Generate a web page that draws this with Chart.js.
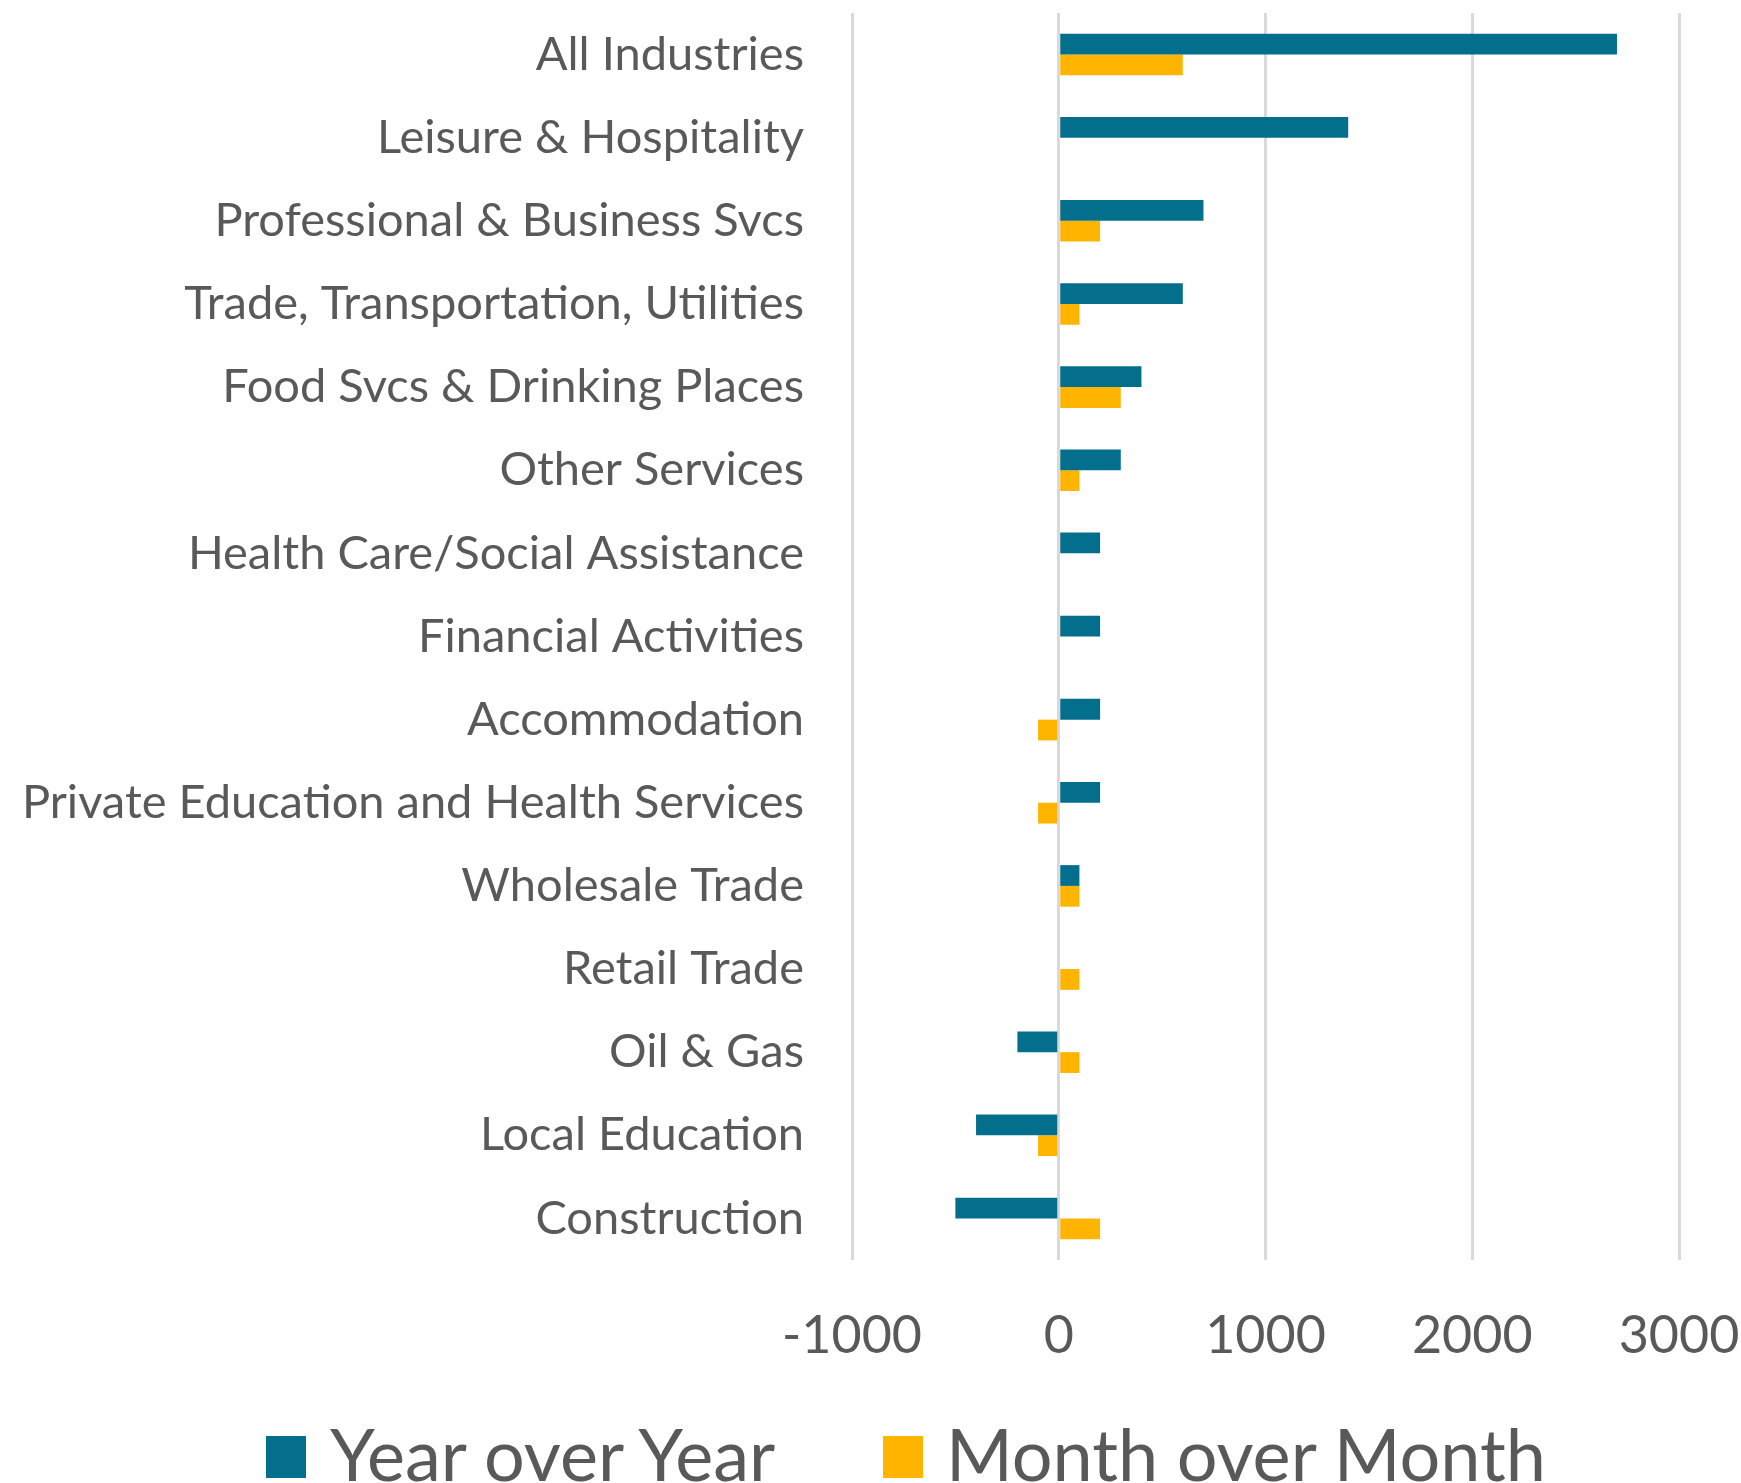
<!DOCTYPE html>
<html>
<head>
<meta charset="utf-8">
<script src="https://cdn.jsdelivr.net/npm/chart.js@4/dist/chart.umd.min.js"></script>
<style>
  html, body { margin: 0; padding: 0; background: #ffffff; }
  #wrap { position: relative; width: 1741px; height: 1483px; overflow: hidden; }
  #c { position: absolute; left: 0; top: 0; }
  #legend { position: absolute; left: 0; top: 1400px; width: 1741px; height: 83px; }
  .item { position: absolute; top: 0; height: 83px; }
  .box { position: absolute; top: 36px; width: 40px; height: 42px; }
  .txt { position: absolute; top: 12px; font-family: Lato, sans-serif; font-size: 72px; line-height: 83px; color: #595959; white-space: nowrap; }
</style>
</head>
<body>
<div id="wrap">
  <canvas id="c" width="1741" height="1400"></canvas>
  <div id="legend"></div>
</div>
<script>
const categories = [
  "All Industries",
  "Leisure & Hospitality",
  "Professional & Business Svcs",
  "Trade, Transportation, Utilities",
  "Food Svcs & Drinking Places",
  "Other Services",
  "Health Care/Social Assistance",
  "Financial Activities",
  "Accommodation",
  "Private Education and Health Services",
  "Wholesale Trade",
  "Retail Trade",
  "Oil & Gas",
  "Local Education",
  "Construction"
];
const yearOverYear = [2700, 1400, 700, 600, 400, 300, 200, 200, 200, 200, 100, 0, -200, -400, -500];
const monthOverMonth = [600, 0, 200, 100, 300, 100, 0, 0, -100, -100, 100, 100, 100, -100, 200];
const seriesNames = ["Year over Year", "Month over Month"];
const seriesColors = ["#036f8c", "#ffb400"];
const xTicks = [-1000, 0, 1000, 2000, 3000];

function noPad(s) {
  s.paddingTop = 0; s.paddingBottom = 0; s.paddingLeft = 0; s.paddingRight = 0;
}

const ctx = document.getElementById('c').getContext('2d');
const chart = new Chart(ctx, {
  type: 'bar',
  data: {
    labels: categories,
    datasets: [
      { label: seriesNames[0], data: yearOverYear, backgroundColor: seriesColors[0], borderWidth: 0 },
      { label: seriesNames[1], data: monthOverMonth, backgroundColor: seriesColors[1], borderWidth: 0 }
    ]
  },
  options: {
    indexAxis: 'y',
    responsive: false,
    animation: false,
    categoryPercentage: 0.5,
    barPercentage: 1.0,
    layout: { autoPadding: false, padding: { top: 13, left: 0, right: 62, bottom: 0 } },
    plugins: { legend: { display: false }, tooltip: { enabled: false } },
    scales: {
      x: {
        type: 'linear',
        min: xTicks[0],
        max: xTicks[xTicks.length - 1],
        afterBuildTicks: (s) => { s.ticks = xTicks.map(v => ({ value: v })); },
        afterFit: (s) => { s.height = 140; noPad(s); },
        grid: { color: '#d9d9d9', lineWidth: 3, drawTicks: false },
        border: { display: false },
        ticks: {
          padding: 45,
          color: '#595959',
          font: { family: 'Lato', size: 52 },
          maxRotation: 0,
          callback: (v) => String(v)
        }
      },
      y: {
        afterFit: (s) => { s.width = 852; noPad(s); },
        grid: { display: false, drawTicks: false },
        border: { display: false },
        ticks: {
          padding: 48,
          color: '#595959',
          font: { family: 'Lato', size: 47 },
          autoSkip: false
        }
      }
    }
  }
});

// HTML legend built from the chart's datasets
const legendEl = document.getElementById('legend');
const legendPos = [{ box: 266, text: 330 }, { box: 883, text: 946 }];
chart.data.datasets.forEach((ds, i) => {
  const item = document.createElement('div');
  item.className = 'item';
  const box = document.createElement('div');
  box.className = 'box';
  box.style.left = legendPos[i].box + 'px';
  box.style.background = ds.backgroundColor;
  const txt = document.createElement('div');
  txt.className = 'txt';
  txt.style.left = legendPos[i].text + 'px';
  txt.textContent = ds.label;
  item.appendChild(box);
  item.appendChild(txt);
  legendEl.appendChild(item);
});
</script>
</body>
</html>
